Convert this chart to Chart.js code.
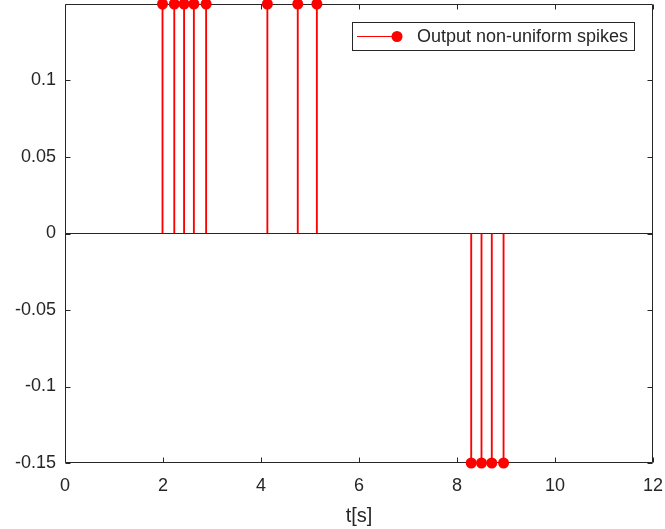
<!DOCTYPE html>
<html>
<head>
<meta charset="utf-8">
<script src="https://cdn.jsdelivr.net/npm/chart.js@4/dist/chart.umd.min.js"></script>
<style>
  html, body { margin: 0; padding: 0; background: #fff; }
  #wrap { width: 665px; height: 529px; }
</style>
</head>
<body>
<div id="wrap"><canvas id="spikeChart" width="665" height="529"></canvas></div>
<script>
// spike times [s] and amplitudes
const spikeTimes = [1.99, 2.23, 2.43, 2.63, 2.88, 4.13, 4.75, 5.14, 8.29, 8.50, 8.71, 8.95];
const spikeValues = [0.15, 0.15, 0.15, 0.15, 0.15, 0.15, 0.15, 0.15, -0.15, -0.15, -0.15, -0.15];
const xTicks = [0, 2, 4, 6, 8, 10, 12];
const yTicks = [-0.15, -0.1, -0.05, 0, 0.05, 0.1];
const legendLabel = 'Output non-uniform spikes';

const AXIS_COLOR = '#262626';
const STEM_COLOR = '#ff0000';
const FONT = '"Liberation Sans", Arial, Helvetica, sans-serif';

Chart.defaults.font.family = FONT;
Chart.defaults.color = AXIS_COLOR;

const points = spikeTimes.map((t, i) => ({ x: t, y: spikeValues[i] }));

// box around the axes with inward tick marks on all four sides
const axesBox = {
  id: 'axesBox',
  beforeDatasetsDraw(chart) {
    const { ctx, chartArea: a, scales } = chart;
    const L = Math.round(a.left) + 0.5, R = Math.round(a.right) - 0.5;
    const T = Math.round(a.top) + 0.5, B = Math.round(a.bottom) - 0.5;
    const len = 5;
    ctx.save();
    ctx.strokeStyle = AXIS_COLOR;
    ctx.lineWidth = 1;
    ctx.beginPath();
    ctx.rect(L, T, R - L, B - T);
    xTicks.forEach(v => {
      const px = Math.round(scales.x.getPixelForValue(v)) + 0.5;
      ctx.moveTo(px, B); ctx.lineTo(px, B - len);
      ctx.moveTo(px, T); ctx.lineTo(px, T + len);
    });
    yTicks.forEach(v => {
      const py = Math.round(scales.y.getPixelForValue(v)) + 0.5;
      ctx.moveTo(L, py); ctx.lineTo(L + len, py);
      ctx.moveTo(R, py); ctx.lineTo(R - len, py);
    });
    ctx.stroke();
    ctx.restore();
  }
};

// boxed legend in the upper right, line with a dot like a stem marker
const stemLegend = {
  id: 'stemLegend',
  afterDraw(chart) {
    const { ctx } = chart;
    const x0 = 352, y0 = 22, w = 282, h = 28;
    const cy = y0 + h / 2;
    ctx.save();
    ctx.fillStyle = '#fff';
    ctx.fillRect(x0, y0, w, h);
    ctx.strokeStyle = AXIS_COLOR;
    ctx.lineWidth = 1;
    ctx.strokeRect(x0 + 0.5, y0 + 0.5, w, h);
    ctx.strokeStyle = STEM_COLOR;
    ctx.beginPath();
    ctx.moveTo(x0 + 5, cy + 0.5);
    ctx.lineTo(x0 + 44, cy + 0.5);
    ctx.stroke();
    ctx.fillStyle = STEM_COLOR;
    ctx.beginPath();
    ctx.arc(x0 + 45, cy + 0.5, 5.5, 0, Math.PI * 2);
    ctx.fill();
    ctx.fillStyle = AXIS_COLOR;
    ctx.font = '18px ' + FONT;
    ctx.textBaseline = 'middle';
    ctx.textAlign = 'left';
    ctx.fillText(legendLabel, x0 + 65, cy + 1);
    ctx.restore();
  }
};

new Chart(document.getElementById('spikeChart'), {
  type: 'bar',
  data: {
    datasets: [
      {
        type: 'scatter',
        label: legendLabel,
        data: points,
        pointRadius: 5.5,
        pointHoverRadius: 5.5,
        pointBackgroundColor: STEM_COLOR,
        pointBorderColor: STEM_COLOR,
        pointBorderWidth: 0,
        showLine: false,
        clip: false,
        order: 0
      },
      {
        type: 'bar',
        label: 'stems',
        data: points,
        backgroundColor: STEM_COLOR,
        borderWidth: 0,
        barThickness: 1.2,
        order: 1
      }
    ]
  },
  options: {
    responsive: false,
    animation: false,
    layout: { autoPadding: false, padding: { top: 4, right: 12, left: 0, bottom: 0 } },
    plugins: {
      legend: { display: false },
      tooltip: { enabled: false }
    },
    scales: {
      x: {
        type: 'linear',
        offset: false,
        min: 0,
        max: 12,
        afterBuildTicks: s => { s.ticks = xTicks.map(v => ({ value: v })); },
        afterFit: s => { s.height = 66; s.paddingLeft = 0; s.paddingRight = 0; },
        grid: { display: false, drawTicks: false, offset: false },
        border: { display: false },
        ticks: { font: { size: 18 }, padding: 12, maxRotation: 0 },
        title: { display: true, text: 't[s]', font: { size: 20 }, padding: { top: 0, bottom: 1 } }
      },
      y: {
        type: 'linear',
        min: -0.15,
        max: 0.15,
        afterBuildTicks: s => { s.ticks = yTicks.map(v => ({ value: v })); },
        afterFit: s => { s.width = 65; s.paddingTop = 0; s.paddingBottom = 0; },
        grid: {
          drawTicks: false,
          lineWidth: 1,
          color: c => (c.tick && Math.abs(c.tick.value) < 1e-9) ? AXIS_COLOR : 'rgba(0,0,0,0)'
        },
        border: { display: false },
        ticks: {
          font: { size: 18 },
          padding: 9,
          callback: v => String(Number(v.toFixed(2)))
        }
      }
    }
  },
  plugins: [axesBox, stemLegend]
});
</script>
</body>
</html>
